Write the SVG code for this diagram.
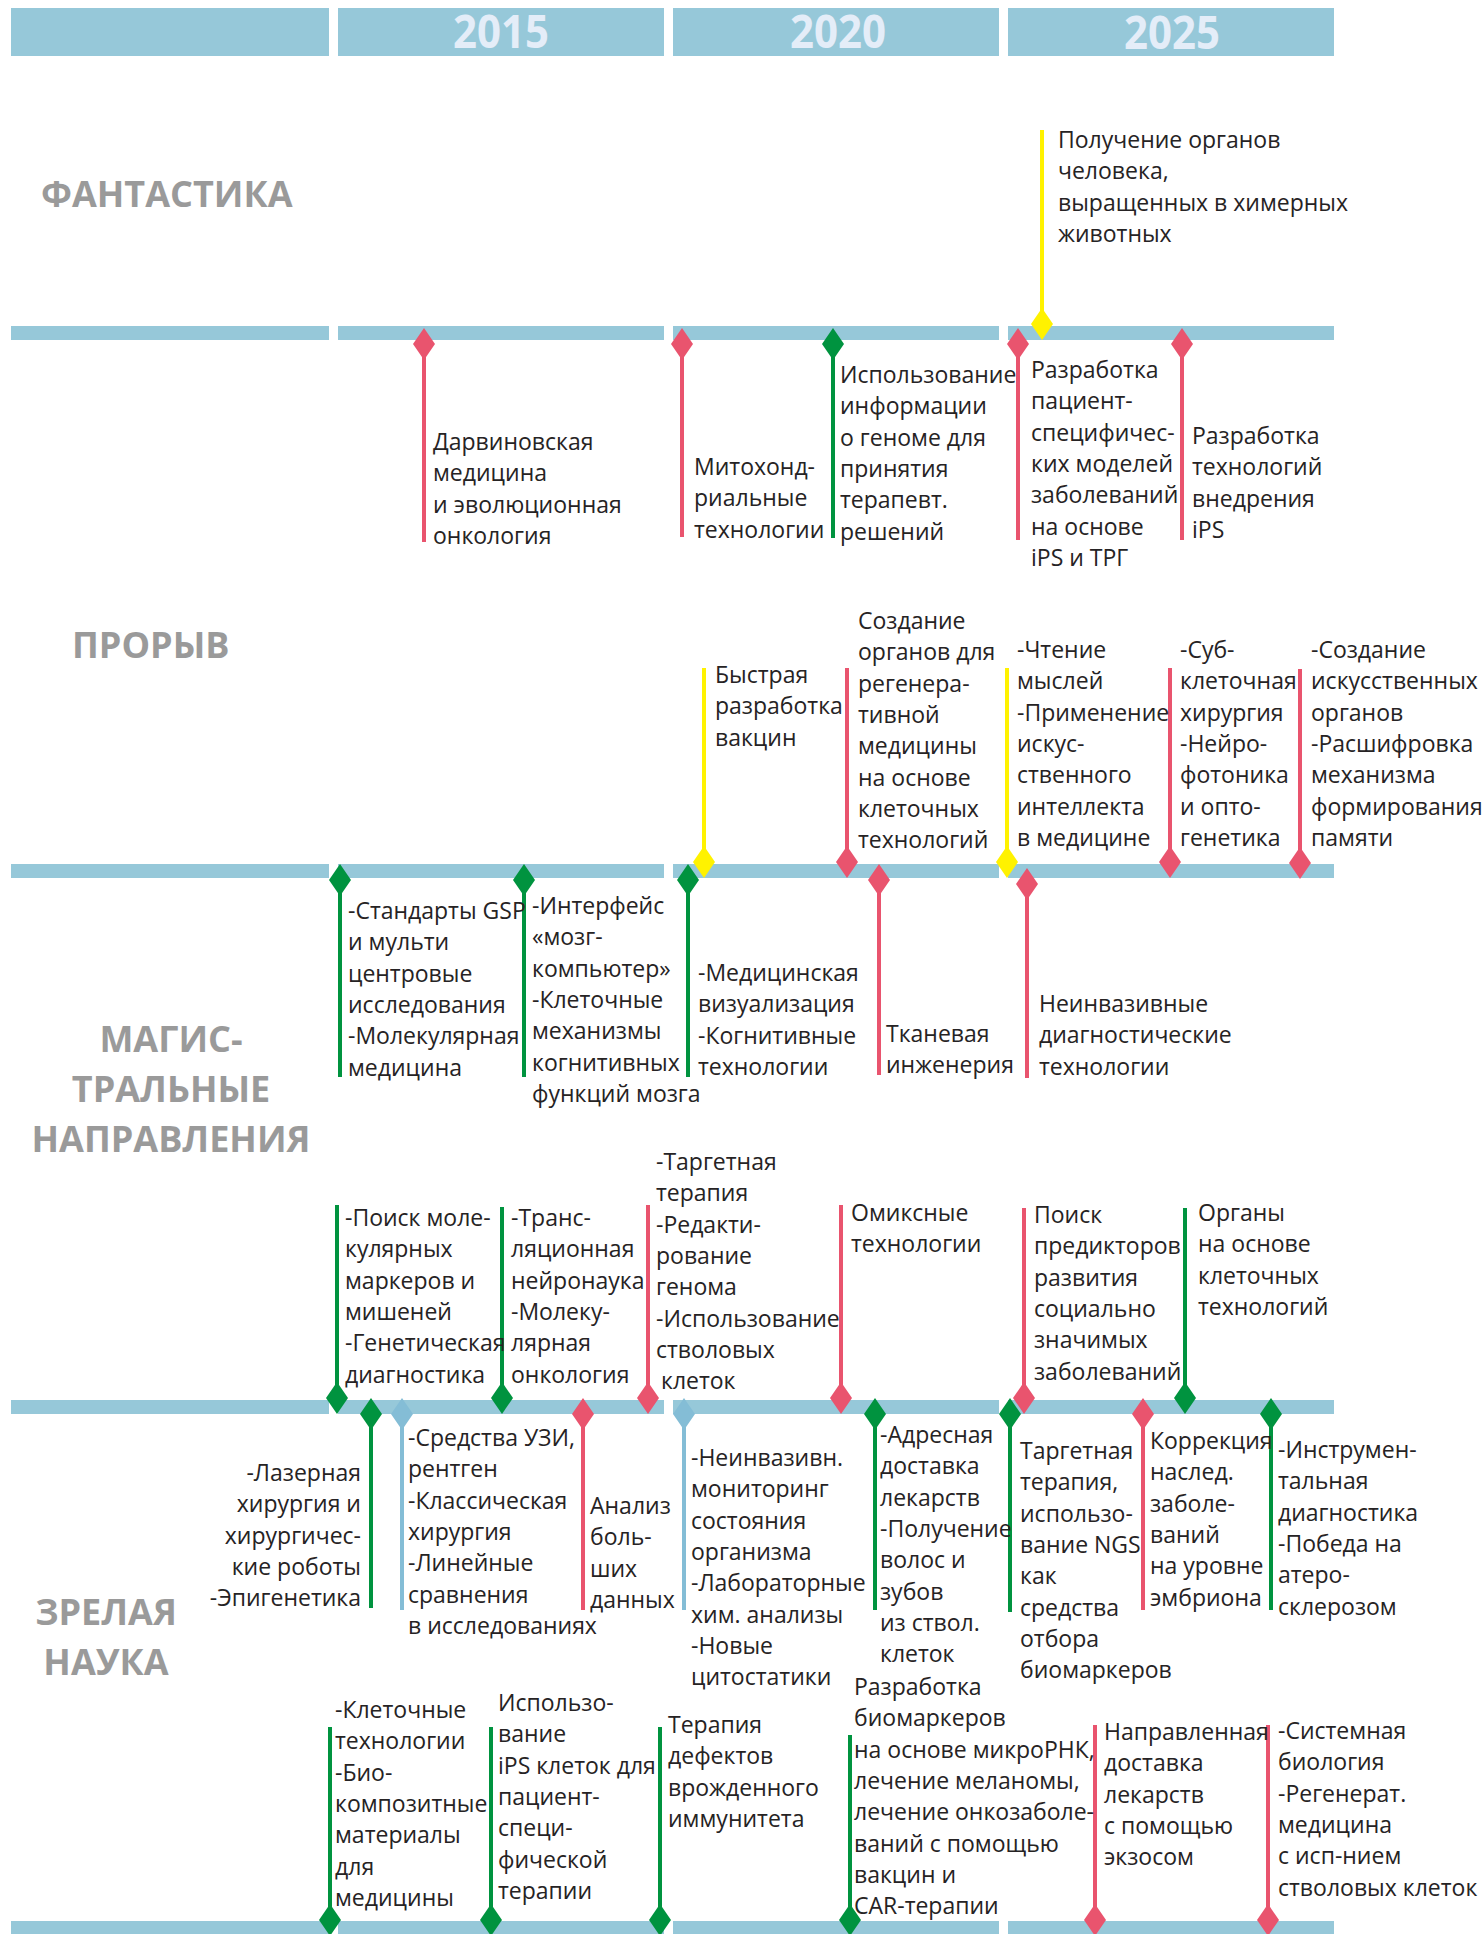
<svg xmlns="http://www.w3.org/2000/svg" xmlns:xlink="http://www.w3.org/1999/xlink" width="1484" height="1934" viewBox="0 0 1484 1934">
  <style>
    .bar { fill: #96c8d9; }
    .yr { font-family: "Open Sans", "Noto Sans", sans-serif; font-weight: 700; font-size: 46px; fill: #e4edf8; text-anchor: middle; }
    .cat { font-family: "Open Sans", "Noto Sans", sans-serif; font-weight: 700; font-size: 36px; fill: #9a9a9a; }
    .cat.c { text-anchor: middle; }
    .t { font-family: "Open Sans", "Noto Sans", sans-serif; font-size: 23px; fill: #262324; }
    .t.r { text-anchor: end; }
    .s { stroke-width: 4; fill: none; }
    .pk { stroke: #e9546e; }
    .gr { stroke: #00933f; }
    .yl { stroke: #fff200; }
    .lb { stroke: #84bdd6; }
    .fpk { fill: #e9546e; }
    .fgr { fill: #00933f; }
    .fyl { fill: #fff200; }
    .flb { fill: #84bdd6; }
  </style>
  <defs>
    <path id="dm" d="M0,-16 L11,0 L0,16 L-11,0 Z"/>
  </defs>

  <rect width="1484" height="1934" fill="#ffffff"/>

  <!-- year header -->
  <g id="header">
    <rect class="bar" x="11" y="8" width="318" height="48"/>
    <rect class="bar" x="338" y="8" width="326" height="48"/>
    <rect class="bar" x="673" y="8" width="326" height="48"/>
    <rect class="bar" x="1008" y="8" width="326" height="48"/>
    <text class="yr" x="501" y="48" textLength="96" lengthAdjust="spacingAndGlyphs">2015</text>
    <text class="yr" x="838" y="48" textLength="96" lengthAdjust="spacingAndGlyphs">2020</text>
    <text class="yr" x="1172" y="49" textLength="96" lengthAdjust="spacingAndGlyphs">2025</text>
  </g>

  <!-- timeline axes -->
  <g id="axes">
    <rect class="bar" x="11" y="326" width="318" height="14"/>
    <rect class="bar" x="338" y="326" width="326" height="14"/>
    <rect class="bar" x="673" y="326" width="326" height="14"/>
    <rect class="bar" x="1008" y="326" width="326" height="14"/>

    <rect class="bar" x="11" y="864" width="318" height="14"/>
    <rect class="bar" x="338" y="864" width="326" height="14"/>
    <rect class="bar" x="673" y="864" width="326" height="14"/>
    <rect class="bar" x="1008" y="864" width="326" height="14"/>

    <rect class="bar" x="11" y="1400" width="318" height="14"/>
    <rect class="bar" x="338" y="1400" width="326" height="14"/>
    <rect class="bar" x="673" y="1400" width="326" height="14"/>
    <rect class="bar" x="1008" y="1400" width="326" height="14"/>

    <rect class="bar" x="11" y="1921" width="318" height="14"/>
    <rect class="bar" x="338" y="1921" width="326" height="14"/>
    <rect class="bar" x="673" y="1921" width="326" height="14"/>
    <rect class="bar" x="1008" y="1921" width="326" height="14"/>
  </g>

  <!-- category labels -->
  <g id="categories">
    <text class="cat" x="41" y="207">ФАНТАСТИКА</text>
    <text class="cat" x="72" y="658">ПРОРЫВ</text>
    <text class="cat c" x="171" y="1052">МАГИС-</text>
    <text class="cat c" x="171" y="1102">ТРАЛЬНЫЕ</text>
    <text class="cat c" x="171" y="1152">НАПРАВЛЕНИЯ</text>
    <text class="cat c" x="106" y="1625">ЗРЕЛАЯ</text>
    <text class="cat c" x="106" y="1675">НАУКА</text>
  </g>

  <!-- stems joining each event to its axis -->
  <g id="connectors">
    <line class="s yl" x1="1042" y1="130" x2="1042" y2="324"/>

    <line class="s pk" x1="424" y1="344" x2="424" y2="542"/>
    <line class="s pk" x1="682" y1="344" x2="682" y2="537"/>
    <line class="s gr" x1="833" y1="344" x2="833" y2="538"/>
    <line class="s pk" x1="1018" y1="344" x2="1018" y2="540"/>
    <line class="s pk" x1="1182" y1="344" x2="1182" y2="540"/>

    <line class="s yl" x1="704" y1="668" x2="704" y2="862"/>
    <line class="s pk" x1="847" y1="668" x2="847" y2="862"/>
    <line class="s yl" x1="1007" y1="668" x2="1007" y2="862"/>
    <line class="s pk" x1="1170" y1="668" x2="1170" y2="862"/>
    <line class="s pk" x1="1300" y1="669" x2="1300" y2="862"/>

    <line class="s gr" x1="340" y1="880" x2="340" y2="1077"/>
    <line class="s gr" x1="524" y1="880" x2="524" y2="1077"/>
    <line class="s gr" x1="688" y1="880" x2="688" y2="1077"/>
    <line class="s pk" x1="879" y1="880" x2="879" y2="1075"/>
    <line class="s pk" x1="1027" y1="884" x2="1027" y2="1078"/>

    <line class="s gr" x1="337" y1="1205" x2="337" y2="1398"/>
    <line class="s gr" x1="502" y1="1207" x2="502" y2="1398"/>
    <line class="s pk" x1="648" y1="1205" x2="648" y2="1398"/>
    <line class="s pk" x1="841" y1="1205" x2="841" y2="1398"/>
    <line class="s pk" x1="1024" y1="1208" x2="1024" y2="1398"/>
    <line class="s gr" x1="1185" y1="1208" x2="1185" y2="1398"/>

    <line class="s gr" x1="371" y1="1414" x2="371" y2="1608"/>
    <line class="s lb" x1="402" y1="1414" x2="402" y2="1610"/>
    <line class="s pk" x1="583" y1="1414" x2="583" y2="1610"/>
    <line class="s lb" x1="684" y1="1414" x2="684" y2="1610"/>
    <line class="s gr" x1="875" y1="1414" x2="875" y2="1610"/>
    <line class="s gr" x1="1010" y1="1414" x2="1010" y2="1612"/>
    <line class="s pk" x1="1143" y1="1414" x2="1143" y2="1610"/>
    <line class="s gr" x1="1271" y1="1414" x2="1271" y2="1610"/>

    <line class="s gr" x1="330" y1="1727" x2="330" y2="1920"/>
    <line class="s gr" x1="491" y1="1727" x2="491" y2="1920"/>
    <line class="s gr" x1="660" y1="1727" x2="660" y2="1920"/>
    <line class="s gr" x1="850" y1="1735" x2="850" y2="1920"/>
    <line class="s pk" x1="1095" y1="1725" x2="1095" y2="1920"/>
    <line class="s pk" x1="1268" y1="1725" x2="1268" y2="1920"/>
  </g>

  <!-- ФАНТАСТИКА -->
  <g id="f1">
    <use xlink:href="#dm" x="1042" y="324" class="fyl"/>
    <text class="t"><tspan x="1058" y="148">Получение органов</tspan><tspan x="1058" dy="31.3">человека,</tspan><tspan x="1058" dy="31.3">выращенных в химерных</tspan><tspan x="1058" dy="31.3">животных</tspan></text>
  </g>

  <!-- events below the first axis -->
  <g id="a1">
    <use xlink:href="#dm" x="424" y="344" class="fpk"/>
    <text class="t"><tspan x="433" y="450">Дарвиновская</tspan><tspan x="433" dy="31.3">медицина</tspan><tspan x="433" dy="31.3">и эволюционная</tspan><tspan x="433" dy="31.3">онкология</tspan></text>
  </g>
  <g id="a2">
    <use xlink:href="#dm" x="682" y="344" class="fpk"/>
    <text class="t"><tspan x="694" y="475">Митохонд-</tspan><tspan x="694" dy="31.3">риальные</tspan><tspan x="694" dy="31.3">технологии</tspan></text>
  </g>
  <g id="a3">
    <use xlink:href="#dm" x="833" y="344" class="fgr"/>
    <text class="t"><tspan x="840" y="383">Использование</tspan><tspan x="840" dy="31.3">информации</tspan><tspan x="840" dy="31.3">о геноме для</tspan><tspan x="840" dy="31.3">принятия</tspan><tspan x="840" dy="31.3">терапевт.</tspan><tspan x="840" dy="31.3">решений</tspan></text>
  </g>
  <g id="a4">
    <use xlink:href="#dm" x="1018" y="344" class="fpk"/>
    <text class="t"><tspan x="1031" y="378">Разработка</tspan><tspan x="1031" dy="31.3">пациент-</tspan><tspan x="1031" dy="31.3">специфичес-</tspan><tspan x="1031" dy="31.3">ких моделей</tspan><tspan x="1031" dy="31.3">заболеваний</tspan><tspan x="1031" dy="31.3">на основе</tspan><tspan x="1031" dy="31.3">iPS и ТРГ</tspan></text>
  </g>
  <g id="a5">
    <use xlink:href="#dm" x="1182" y="344" class="fpk"/>
    <text class="t"><tspan x="1192" y="444">Разработка</tspan><tspan x="1192" dy="31.3">технологий</tspan><tspan x="1192" dy="31.3">внедрения</tspan><tspan x="1192" dy="31.3">iPS</tspan></text>
  </g>

  <!-- ПРОРЫВ -->
  <g id="b1">
    <use xlink:href="#dm" x="704" y="862" class="fyl"/>
    <text class="t"><tspan x="715" y="683">Быстрая</tspan><tspan x="715" dy="31.3">разработка</tspan><tspan x="715" dy="31.3">вакцин</tspan></text>
  </g>
  <g id="b2">
    <use xlink:href="#dm" x="847" y="862" class="fpk"/>
    <text class="t"><tspan x="858" y="629">Создание</tspan><tspan x="858" dy="31.3">органов для</tspan><tspan x="858" dy="31.3">регенера-</tspan><tspan x="858" dy="31.3">тивной</tspan><tspan x="858" dy="31.3">медицины</tspan><tspan x="858" dy="31.3">на основе</tspan><tspan x="858" dy="31.3">клеточных</tspan><tspan x="858" dy="31.3">технологий</tspan></text>
  </g>
  <g id="b3">
    <use xlink:href="#dm" x="1007" y="862" class="fyl"/>
    <text class="t"><tspan x="1017" y="658">-Чтение</tspan><tspan x="1017" dy="31.3">мыслей</tspan><tspan x="1017" dy="31.3">-Применение</tspan><tspan x="1017" dy="31.3">искус-</tspan><tspan x="1017" dy="31.3">ственного</tspan><tspan x="1017" dy="31.3">интеллекта</tspan><tspan x="1017" dy="31.3">в медицине</tspan></text>
  </g>
  <g id="b4">
    <use xlink:href="#dm" x="1170" y="862" class="fpk"/>
    <text class="t"><tspan x="1180" y="658">-Суб-</tspan><tspan x="1180" dy="31.3">клеточная</tspan><tspan x="1180" dy="31.3">хирургия</tspan><tspan x="1180" dy="31.3">-Нейро-</tspan><tspan x="1180" dy="31.3">фотоника</tspan><tspan x="1180" dy="31.3">и опто-</tspan><tspan x="1180" dy="31.3">генетика</tspan></text>
  </g>
  <g id="b5">
    <use xlink:href="#dm" x="1300" y="863" class="fpk"/>
    <text class="t"><tspan x="1311" y="658">-Создание</tspan><tspan x="1311" dy="31.3">искусственных</tspan><tspan x="1311" dy="31.3">органов</tspan><tspan x="1311" dy="31.3">-Расшифровка</tspan><tspan x="1311" dy="31.3">механизма</tspan><tspan x="1311" dy="31.3">формирования</tspan><tspan x="1311" dy="31.3">памяти</tspan></text>
  </g>

  <!-- МАГИСТРАЛЬНЫЕ НАПРАВЛЕНИЯ, below the second axis -->
  <g id="c1">
    <use xlink:href="#dm" x="340" y="880" class="fgr"/>
    <text class="t"><tspan x="348" y="919">-Стандарты GSP</tspan><tspan x="348" dy="31.3">и мульти</tspan><tspan x="348" dy="31.3">центровые</tspan><tspan x="348" dy="31.3">исследования</tspan><tspan x="348" dy="31.3">-Молекулярная</tspan><tspan x="348" dy="31.3">медицина</tspan></text>
  </g>
  <g id="c2">
    <use xlink:href="#dm" x="524" y="880" class="fgr"/>
    <text class="t"><tspan x="532" y="914">-Интерфейс</tspan><tspan x="532" dy="31.3">«мозг-</tspan><tspan x="532" dy="31.3">компьютер»</tspan><tspan x="532" dy="31.3">-Клеточные</tspan><tspan x="532" dy="31.3">механизмы</tspan><tspan x="532" dy="31.3">когнитивных</tspan><tspan x="532" dy="31.3">функций мозга</tspan></text>
  </g>
  <g id="c3">
    <use xlink:href="#dm" x="688" y="880" class="fgr"/>
    <text class="t"><tspan x="698" y="981">-Медицинская</tspan><tspan x="698" dy="31.3">визуализация</tspan><tspan x="698" dy="31.3">-Когнитивные</tspan><tspan x="698" dy="31.3">технологии</tspan></text>
  </g>
  <g id="c4">
    <use xlink:href="#dm" x="879" y="880" class="fpk"/>
    <text class="t"><tspan x="886" y="1042">Тканевая</tspan><tspan x="886" dy="31.3">инженерия</tspan></text>
  </g>
  <g id="c5">
    <use xlink:href="#dm" x="1027" y="884" class="fpk"/>
    <text class="t"><tspan x="1039" y="1012">Неинвазивные</tspan><tspan x="1039" dy="31.3">диагностические</tspan><tspan x="1039" dy="31.3">технологии</tspan></text>
  </g>

  <!-- МАГИСТРАЛЬНЫЕ НАПРАВЛЕНИЯ, above the third axis -->
  <g id="d1">
    <use xlink:href="#dm" x="337" y="1398" class="fgr"/>
    <text class="t"><tspan x="345" y="1226">-Поиск моле-</tspan><tspan x="345" dy="31.3">кулярных</tspan><tspan x="345" dy="31.3">маркеров и</tspan><tspan x="345" dy="31.3">мишеней</tspan><tspan x="345" dy="31.3">-Генетическая</tspan><tspan x="345" dy="31.3">диагностика</tspan></text>
  </g>
  <g id="d2">
    <use xlink:href="#dm" x="502" y="1398" class="fgr"/>
    <text class="t"><tspan x="511" y="1226">-Транс-</tspan><tspan x="511" dy="31.3">ляционная</tspan><tspan x="511" dy="31.3">нейронаука</tspan><tspan x="511" dy="31.3">-Молеку-</tspan><tspan x="511" dy="31.3">лярная</tspan><tspan x="511" dy="31.3">онкология</tspan></text>
  </g>
  <g id="d3">
    <use xlink:href="#dm" x="648" y="1398" class="fpk"/>
    <text class="t"><tspan x="656" y="1170">-Таргетная</tspan><tspan x="656" dy="31.3">терапия</tspan><tspan x="656" dy="31.3">-Редакти-</tspan><tspan x="656" dy="31.3">рование</tspan><tspan x="656" dy="31.3">генома</tspan><tspan x="656" dy="31.3">-Использование</tspan><tspan x="656" dy="31.3">стволовых</tspan><tspan x="661" dy="31.3">клеток</tspan></text>
  </g>
  <g id="d4">
    <use xlink:href="#dm" x="841" y="1398" class="fpk"/>
    <text class="t"><tspan x="851" y="1221">Омиксные</tspan><tspan x="851" dy="31.3">технологии</tspan></text>
  </g>
  <g id="d5">
    <use xlink:href="#dm" x="1024" y="1398" class="fpk"/>
    <text class="t"><tspan x="1034" y="1223">Поиск</tspan><tspan x="1034" dy="31.3">предикторов</tspan><tspan x="1034" dy="31.3">развития</tspan><tspan x="1034" dy="31.3">социально</tspan><tspan x="1034" dy="31.3">значимых</tspan><tspan x="1034" dy="31.3">заболеваний</tspan></text>
  </g>
  <g id="d6">
    <use xlink:href="#dm" x="1185" y="1398" class="fgr"/>
    <text class="t"><tspan x="1198" y="1221">Органы</tspan><tspan x="1198" dy="31.3">на основе</tspan><tspan x="1198" dy="31.3">клеточных</tspan><tspan x="1198" dy="31.3">технологий</tspan></text>
  </g>

  <!-- ЗРЕЛАЯ НАУКА, below the third axis -->
  <g id="e1">
    <use xlink:href="#dm" x="371" y="1414" class="fgr"/>
    <text class="t r"><tspan x="361" y="1481">-Лазерная</tspan><tspan x="361" dy="31.3">хирургия и</tspan><tspan x="361" dy="31.3">хирургичес-</tspan><tspan x="361" dy="31.3">кие роботы</tspan><tspan x="361" dy="31.3">-Эпигенетика</tspan></text>
  </g>
  <g id="e2">
    <use xlink:href="#dm" x="402" y="1414" class="flb"/>
    <text class="t"><tspan x="408" y="1446">-Средства УЗИ,</tspan><tspan x="408" dy="31.3">рентген</tspan><tspan x="408" dy="31.3">-Классическая</tspan><tspan x="408" dy="31.3">хирургия</tspan><tspan x="408" dy="31.3">-Линейные</tspan><tspan x="408" dy="31.3">сравнения</tspan><tspan x="408" dy="31.3">в исследованиях</tspan></text>
  </g>
  <g id="e3">
    <use xlink:href="#dm" x="583" y="1414" class="fpk"/>
    <text class="t"><tspan x="590" y="1514">Анализ</tspan><tspan x="590" dy="31.3">боль-</tspan><tspan x="590" dy="31.3">ших</tspan><tspan x="590" dy="31.3">данных</tspan></text>
  </g>
  <g id="e4">
    <use xlink:href="#dm" x="684" y="1414" class="flb"/>
    <text class="t"><tspan x="691" y="1466">-Неинвазивн.</tspan><tspan x="691" dy="31.3">мониторинг</tspan><tspan x="691" dy="31.3">состояния</tspan><tspan x="691" dy="31.3">организма</tspan><tspan x="691" dy="31.3">-Лабораторные</tspan><tspan x="691" dy="31.3">хим. анализы</tspan><tspan x="691" dy="31.3">-Новые</tspan><tspan x="691" dy="31.3">цитостатики</tspan></text>
  </g>
  <g id="e5">
    <use xlink:href="#dm" x="875" y="1414" class="fgr"/>
    <text class="t"><tspan x="880" y="1443">-Адресная</tspan><tspan x="880" dy="31.3">доставка</tspan><tspan x="880" dy="31.3">лекарств</tspan><tspan x="880" dy="31.3">-Получение</tspan><tspan x="880" dy="31.3">волос и</tspan><tspan x="880" dy="31.3">зубов</tspan><tspan x="880" dy="31.3">из ствол.</tspan><tspan x="880" dy="31.3">клеток</tspan></text>
  </g>
  <g id="e6">
    <use xlink:href="#dm" x="1010" y="1414" class="fgr"/>
    <text class="t"><tspan x="1020" y="1459">Таргетная</tspan><tspan x="1020" dy="31.3">терапия,</tspan><tspan x="1020" dy="31.3">использо-</tspan><tspan x="1020" dy="31.3">вание NGS</tspan><tspan x="1020" dy="31.3">как</tspan><tspan x="1020" dy="31.3">средства</tspan><tspan x="1020" dy="31.3">отбора</tspan><tspan x="1020" dy="31.3">биомаркеров</tspan></text>
  </g>
  <g id="e7">
    <use xlink:href="#dm" x="1143" y="1414" class="fpk"/>
    <text class="t"><tspan x="1150" y="1449">Коррекция</tspan><tspan x="1150" dy="31.3">наслед.</tspan><tspan x="1150" dy="31.3">заболе-</tspan><tspan x="1150" dy="31.3">ваний</tspan><tspan x="1150" dy="31.3">на уровне</tspan><tspan x="1150" dy="31.3">эмбриона</tspan></text>
  </g>
  <g id="e8">
    <use xlink:href="#dm" x="1271" y="1414" class="fgr"/>
    <text class="t"><tspan x="1278" y="1458">-Инструмен-</tspan><tspan x="1278" dy="31.3">тальная</tspan><tspan x="1278" dy="31.3">диагностика</tspan><tspan x="1278" dy="31.3">-Победа на</tspan><tspan x="1278" dy="31.3">атеро-</tspan><tspan x="1278" dy="31.3">склерозом</tspan></text>
  </g>

  <!-- ЗРЕЛАЯ НАУКА, above the fourth axis -->
  <g id="g1">
    <use xlink:href="#dm" x="330" y="1920" class="fgr"/>
    <text class="t"><tspan x="335" y="1718">-Клеточные</tspan><tspan x="335" dy="31.3">технологии</tspan><tspan x="335" dy="31.3">-Био-</tspan><tspan x="335" dy="31.3">композитные</tspan><tspan x="335" dy="31.3">материалы</tspan><tspan x="335" dy="31.3">для</tspan><tspan x="335" dy="31.3">медицины</tspan></text>
  </g>
  <g id="g2">
    <use xlink:href="#dm" x="491" y="1920" class="fgr"/>
    <text class="t"><tspan x="498" y="1711">Использо-</tspan><tspan x="498" dy="31.3">вание</tspan><tspan x="498" dy="31.3">iPS клеток для</tspan><tspan x="498" dy="31.3">пациент-</tspan><tspan x="498" dy="31.3">специ-</tspan><tspan x="498" dy="31.3">фической</tspan><tspan x="498" dy="31.3">терапии</tspan></text>
  </g>
  <g id="g3">
    <use xlink:href="#dm" x="660" y="1920" class="fgr"/>
    <text class="t"><tspan x="668" y="1733">Терапия</tspan><tspan x="668" dy="31.3">дефектов</tspan><tspan x="668" dy="31.3">врожденного</tspan><tspan x="668" dy="31.3">иммунитета</tspan></text>
  </g>
  <g id="g4">
    <use xlink:href="#dm" x="850" y="1920" class="fgr"/>
    <text class="t"><tspan x="854" y="1695">Разработка</tspan><tspan x="854" dy="31.3">биомаркеров</tspan><tspan x="854" dy="31.3">на основе микроРНК,</tspan><tspan x="854" dy="31.3">лечение меланомы,</tspan><tspan x="854" dy="31.3">лечение онкозаболе-</tspan><tspan x="854" dy="31.3">ваний с помощью</tspan><tspan x="854" dy="31.3">вакцин и</tspan><tspan x="854" dy="31.3">CAR-терапии</tspan></text>
  </g>
  <g id="g5">
    <use xlink:href="#dm" x="1095" y="1920" class="fpk"/>
    <text class="t"><tspan x="1104" y="1740">Направленная</tspan><tspan x="1104" dy="31.3">доставка</tspan><tspan x="1104" dy="31.3">лекарств</tspan><tspan x="1104" dy="31.3">с помощью</tspan><tspan x="1104" dy="31.3">экзосом</tspan></text>
  </g>
  <g id="g6">
    <use xlink:href="#dm" x="1268" y="1920" class="fpk"/>
    <text class="t"><tspan x="1278" y="1739">-Системная</tspan><tspan x="1278" dy="31.3">биология</tspan><tspan x="1278" dy="31.3">-Регенерат.</tspan><tspan x="1278" dy="31.3">медицина</tspan><tspan x="1278" dy="31.3">с исп-нием</tspan><tspan x="1278" dy="31.3">стволовых клеток</tspan></text>
  </g>
</svg>
